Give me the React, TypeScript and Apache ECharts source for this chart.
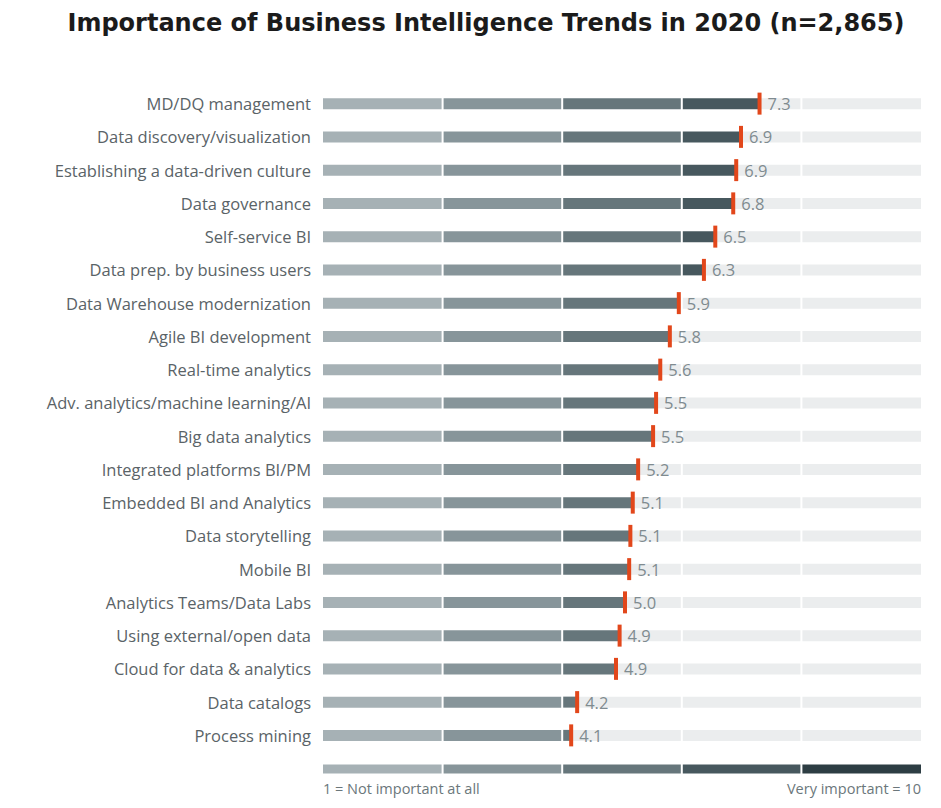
import React, { useEffect, useRef } from "react";
import * as echarts from "echarts";

const categories = [
  "MD/DQ management",
  "Data discovery/visualization",
  "Establishing a data-driven culture",
  "Data governance",
  "Self-service BI",
  "Data prep. by business users",
  "Data Warehouse modernization",
  "Agile BI development",
  "Real-time analytics",
  "Adv. analytics/machine learning/AI",
  "Big data analytics",
  "Integrated platforms BI/PM",
  "Embedded BI and Analytics",
  "Data storytelling",
  "Mobile BI",
  "Analytics Teams/Data Labs",
  "Using external/open data",
  "Cloud for data & analytics",
  "Data catalogs",
  "Process mining",
];
// marker positions
const values = [7.3, 6.99, 6.91, 6.86, 6.56, 6.37, 5.95, 5.8, 5.64, 5.57, 5.52, 5.27, 5.18, 5.14, 5.12, 5.05, 4.96, 4.9, 4.25, 4.15];
// value labels as printed
const valueLabels = ["7.3", "6.9", "6.9", "6.8", "6.5", "6.3", "5.9", "5.8", "5.6", "5.5", "5.5", "5.2", "5.1", "5.1", "5.1", "5.0", "4.9", "4.9", "4.2", "4.1"];
const segmentBounds = [0, 2, 4, 6, 8, 10];
const segmentColors = ["#a6b1b5", "#87959a", "#66767b", "#47585e", "#2d3d43"];
const emptyColor = "#ebedee";
const markerColor = "#e2471b";
const titleText = "Importance of Business Intelligence Trends in 2020 (n=2,865)";
const scaleLowLabel = "1 = Not important at all";
const scaleHighLabel = "Very important = 10";

const FONT = '"Open Sans", "Noto Sans", sans-serif';

export default function App() {
  const ref = useRef<HTMLDivElement>(null);
  useEffect(() => {
    document.body.style.margin = "0";
    const chart = echarts.init(ref.current!, null, { renderer: "svg" });
    const barH = 11;
    const option: any = {
      animation: false,
      backgroundColor: "#ffffff",
      title: {
        text: titleText,
        left: 481,
        textAlign: "center",
        top: 6,
        textStyle: { fontFamily: '"DejaVu Sans", sans-serif', fontWeight: "bold", fontSize: 24, color: "#1b1b1b" },
      },
      grid: [
        { left: 323, right: 20, top: 87, height: 665 },
        { left: 323, right: 20, top: 760, height: 18 },
      ],
      xAxis: [
        { type: "value", gridIndex: 0, min: 0, max: 10, show: false },
        { type: "value", gridIndex: 1, min: 0, max: 10, show: false },
      ],
      yAxis: [
        {
          type: "category",
          gridIndex: 0,
          data: categories,
          inverse: true,
          axisLine: { show: false },
          axisTick: { show: false },
          axisLabel: { fontFamily: FONT, fontSize: 16.5, color: "#5a6367", margin: 12 },
        },
        { type: "category", gridIndex: 1, data: ["scale"], show: false },
      ],
      graphic: [
        {
          type: "text",
          left: 323,
          top: 781,
          style: { text: scaleLowLabel, fontFamily: FONT, fontSize: 14.5, fill: "#6b777b" },
        },
        {
          type: "text",
          right: 20,
          top: 781,
          style: { text: scaleHighLabel, fontFamily: FONT, fontSize: 14.5, fill: "#6b777b" },
        },
      ],
      series: [
        {
          type: "custom",
          xAxisIndex: 0,
          yAxisIndex: 0,
          encode: { x: 1, y: 0 },
          data: values.map((v, i) => [i, v]),
          renderItem: (params: any, api: any) => {
            const cat = api.value(0);
            const v = api.value(1);
            const yc = api.coord([0, cat])[1];
            const vx = api.coord([v, cat])[0];
            const children: any[] = [];
            for (let i = 0; i < 5; i++) {
              const x0 = api.coord([segmentBounds[i], cat])[0] + (i > 0 ? 1 : 0);
              const x1 = api.coord([segmentBounds[i + 1], cat])[0] - (i < 4 ? 1 : 0);
              const fe = Math.max(x0, Math.min(x1, vx));
              if (fe > x0) {
                children.push({
                  type: "rect",
                  shape: { x: x0, y: yc - barH / 2, width: fe - x0, height: barH },
                  style: { fill: segmentColors[i] },
                });
              }
              if (fe < x1) {
                children.push({
                  type: "rect",
                  shape: { x: fe, y: yc - barH / 2, width: x1 - fe, height: barH },
                  style: { fill: emptyColor },
                });
              }
            }
            children.push({
              type: "rect",
              shape: { x: vx - 2, y: yc - 11, width: 4, height: 22 },
              style: { fill: markerColor },
            });
            children.push({
              type: "text",
              style: {
                text: valueLabels[params.dataIndex],
                x: vx + 8,
                y: yc,
                fill: "#7f8b90",
                fontFamily: FONT,
                fontSize: 16.5,
                verticalAlign: "middle",
                align: "left",
              },
            });
            return { type: "group", children };
          },
        },
        {
          type: "custom",
          xAxisIndex: 1,
          yAxisIndex: 1,
          encode: { y: 0 },
          data: [[0]],
          renderItem: (params: any, api: any) => {
            const yc = api.coord([0, 0])[1];
            const children: any[] = [];
            for (let i = 0; i < 5; i++) {
              const x0 = api.coord([segmentBounds[i], 0])[0] + (i > 0 ? 1 : 0);
              const x1 = api.coord([segmentBounds[i + 1], 0])[0] - (i < 4 ? 1 : 0);
              children.push({
                type: "rect",
                shape: { x: x0, y: yc - 4.5, width: x1 - x0, height: 9 },
                style: { fill: segmentColors[i] },
              });
            }
            return { type: "group", children };
          },
        },
      ],
    };
    chart.setOption(option);
    return () => chart.dispose();
  }, []);
  return <div ref={ref} style={{ width: 941, height: 808 }} />;
}
